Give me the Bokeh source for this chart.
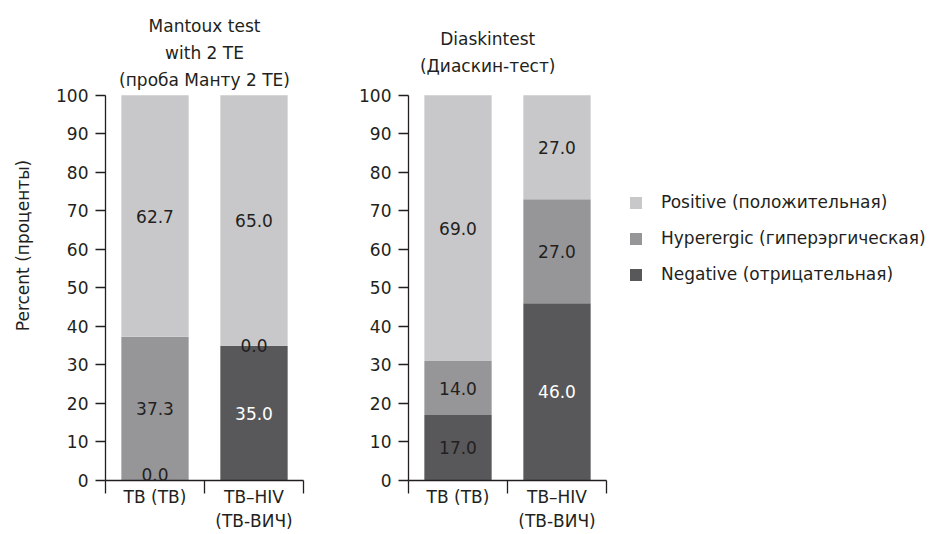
import numpy as np
from bokeh.plotting import figure
from bokeh.models import ColumnDataSource, Range1d, FixedTicker, Label, Legend, LegendItem
from bokeh.layouts import row
from bokeh.embed import file_html
from bokeh.resources import INLINE
from bokeh.core.properties import value

# ---------------- data ----------------
groups = ["TB (TB)", "TB–HIV\n(TB-ВИЧ)"]
series = ["Negative (отрицательная)", "Hyperergic (гиперэргическая)", "Positive (положительная)"]

mantoux_negative = [0.0, 35.0]
mantoux_hyperergic = [37.3, 0.0]
mantoux_positive = [62.7, 65.0]

diaskin_negative = [17.0, 46.0]
diaskin_hyperergic = [14.0, 27.0]
diaskin_positive = [69.0, 27.0]

y_ticks = list(range(0, 101, 10))
mantoux_title = "Mantoux test\nwith 2 TE\n(проба Манту 2 TE)"
diaskin_title = "Diaskintest\n(Диаскин-тест)"
y_label = "Percent (проценты)"

# ---------------- style ----------------
FONT = "DejaVu Sans"
FS = "17px"
INK = "#231f20"
COLORS = ["#58585a", "#969699", "#c8c8ca"]  # negative, hyperergic, positive
H = 534
PANEL_W = 198  # pixel width of the bar area of each panel


def make_panel(neg, hyp, pos, title, title_x, width, bl, br, ylabel=None):
    n = len(groups)
    x = np.arange(n) + 0.5
    frame_w = width - bl - br
    x_end = n * frame_w / PANEL_W
    p = figure(width=width, height=H, x_range=Range1d(0, x_end), y_range=Range1d(0, 122),
               output_backend="svg", toolbar_location=None,
               min_border_left=bl, min_border_right=br, min_border_top=10, min_border_bottom=54)
    p.xgrid.visible = False
    p.ygrid.visible = False
    p.outline_line_color = None

    src = ColumnDataSource(dict(x=x, neg=neg, hyp=hyp, pos=pos))
    rs = p.vbar_stack(["neg", "hyp", "pos"], x="x", width=0.68, fill_color=COLORS,
                      line_color=None, source=src)

    mid = dict(x=[], y=[], t=[], c=[])
    low = dict(x=[], y=[], t=[], c=[])
    for i in range(n):
        bottom = 0.0
        for k, vals in enumerate([neg, hyp, pos]):
            v = vals[i]
            col = "white" if (k == 0 and i == 1) else INK
            tgt = low if (v == 0 and bottom == 0) else mid
            tgt["x"].append(x[i])
            tgt["y"].append(bottom + v / 2)
            tgt["t"].append(f"{v:.1f}")
            tgt["c"].append(col)
            bottom += v
    for d, base in ((mid, "middle"), (low, "bottom")):
        if d["x"]:
            p.text(x="x", y="y", text="t", text_color="c", source=ColumnDataSource(d),
                   text_align="center", text_baseline=base,
                   text_font=value(FONT), text_font_size=FS)

    p.add_layout(Label(x=title_x, y=111, text=title, text_align="center",
                       text_baseline="middle", text_font=FONT, text_font_size=FS,
                       text_color=INK, text_line_height=1.36))

    yax = p.yaxis[0]
    yax.ticker = FixedTicker(ticks=y_ticks)
    yax.bounds = (0, 100)
    yax.major_tick_out = 10
    yax.major_tick_in = 0
    yax.minor_tick_out = 0
    yax.minor_tick_in = 0
    yax.axis_line_color = INK
    yax.axis_line_width = 1.3
    yax.major_tick_line_color = INK
    yax.major_tick_line_width = 1.3
    yax.major_label_text_font = FONT
    yax.major_label_text_font_size = FS
    yax.major_label_text_color = INK
    yax.major_label_standoff = 7
    if ylabel:
        yax.axis_label = ylabel
        yax.axis_label_text_font = FONT
        yax.axis_label_text_font_size = FS
        yax.axis_label_text_font_style = "normal"
        yax.axis_label_text_color = INK
        yax.axis_label_standoff = 20

    xax = p.xaxis[0]
    xax.bounds = (0, n)
    xax.ticker = FixedTicker(ticks=list(x), minor_ticks=list(range(n + 1)))
    xax.major_label_overrides = {float(xi): g for xi, g in zip(x, groups)}
    xax.major_tick_out = 0
    xax.major_tick_in = 0
    xax.minor_tick_out = 13
    xax.minor_tick_in = 0
    xax.axis_line_color = INK
    xax.axis_line_width = 1.3
    xax.minor_tick_line_color = INK
    xax.minor_tick_line_width = 1.3
    xax.major_label_text_font = FONT
    xax.major_label_text_font_size = FS
    xax.major_label_text_color = INK
    xax.major_label_text_line_height = 1.2
    xax.major_label_standoff = -7
    return p, rs


left, _ = make_panel(mantoux_negative, mantoux_hyperergic, mantoux_positive,
                     mantoux_title, 1.0, 320, 105, 16, ylabel=y_label)
right, rrs = make_panel(diaskin_negative, diaskin_hyperergic, diaskin_positive,
                        diaskin_title, 0.8, 614, 88, 0)

items = [LegendItem(label=name, renderers=[r])
         for name, r in reversed(list(zip(series, rrs)))]
legend = Legend(items=items, location=(220, 196), padding=0, margin=0, spacing=16,
                glyph_width=15, glyph_height=15, label_height=20, label_standoff=18,
                label_text_font=FONT, label_text_font_size=FS, label_text_color=INK,
                border_line_color=None, background_fill_alpha=0)
right.add_layout(legend)

layout = row(left, right)
open("out.html", "w").write(file_html(layout, INLINE))
